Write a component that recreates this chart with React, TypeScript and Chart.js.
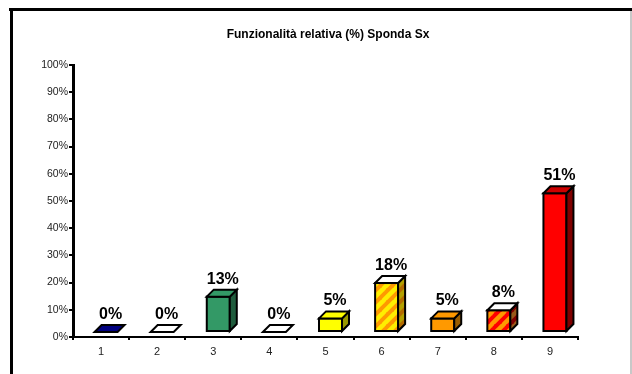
import React, { useEffect, useRef } from "react";
import { Chart, registerables } from "chart.js";

Chart.register(...registerables);

const title = "Funzionalità relativa (%) Sponda Sx";
const categories = ["1", "2", "3", "4", "5", "6", "7", "8", "9"];
const values = [0, 0, 13, 0, 5, 18, 5, 8, 51];
const yMin = 0;
const yMax = 100;
const yStep = 10;

const W = 632;
const H = 374;

// diagonal "/" stripes used by the patterned columns
function stripes(base: string, band: string, size = 12, bandWidth = 4.5): CanvasPattern | string {
  const c = document.createElement("canvas");
  c.width = size;
  c.height = size;
  const g = c.getContext("2d");
  if (!g) return base;
  g.fillStyle = base;
  g.fillRect(0, 0, size, size);
  g.strokeStyle = band;
  g.lineWidth = bandWidth;
  for (let k = -1; k <= 1; k++) {
    g.beginPath();
    g.moveTo(k * size - 1, size + 1);
    g.lineTo(k * size + size + 1, -1);
    g.stroke();
  }
  const ctx = document.createElement("canvas").getContext("2d");
  return (ctx && ctx.createPattern(c, "repeat")) || base;
}

type Face = string | CanvasPattern;

function faceStyles(): { front: Face[]; side: Face[]; top: Face[] } {
  const yellowOrange = stripes("#FF9900", "#FFEE00");
  const yellowOrangeDark = stripes("#B36B00", "#B3A000");
  const redOrange = stripes("#FF0000", "#FF9900");
  const redOrangeDark = stripes("#800000", "#99591A");
  return {
    front: ["#000080", "#FFFFFF", "#339966", "#FFFFFF", "#FFFF00", yellowOrange, "#FF9900", redOrange, "#FF0000"],
    side: ["#000040", "#FFFFFF", "#1F5C3D", "#FFFFFF", "#999900", yellowOrangeDark, "#995C00", redOrangeDark, "#800000"],
    top: ["#000080", "#FFFFFF", "#339966", "#FFFFFF", "#FFFF00", "#FFFFFF", "#FF9900", "#FFFFFF", "#CC0000"],
  };
}

// 3D columns: set back from the axis plane, depth going up-right
const SHIFT = 5;
const DEPTH = 7;

const columns3d = {
  id: "columns3d",
  afterDatasetsDraw(chart: any) {
    const { ctx } = chart;
    const meta = chart.getDatasetMeta(0);
    const styles = faceStyles();
    ctx.save();
    ctx.lineWidth = 2;
    ctx.lineJoin = "miter";
    ctx.strokeStyle = "#000000";
    meta.data.forEach((el: any, i: number) => {
      const p = el.getProps(["x", "y", "base", "width"], true);
      const left = p.x - p.width / 2 + SHIFT;
      const right = left + p.width;
      const top = p.y - SHIFT;
      const bottom = p.base - SHIFT;

      // front face
      if (bottom - top > 0.5) {
        ctx.fillStyle = styles.front[i];
        ctx.fillRect(left, top, right - left, bottom - top);
        ctx.strokeRect(left, top, right - left, bottom - top);
        // side face
        ctx.beginPath();
        ctx.moveTo(right, top);
        ctx.lineTo(right + DEPTH, top - DEPTH);
        ctx.lineTo(right + DEPTH, bottom - DEPTH);
        ctx.lineTo(right, bottom);
        ctx.closePath();
        ctx.fillStyle = styles.side[i];
        ctx.fill();
        ctx.stroke();
      }
      // top face
      ctx.beginPath();
      ctx.moveTo(left, top);
      ctx.lineTo(left + DEPTH, top - DEPTH);
      ctx.lineTo(right + DEPTH, top - DEPTH);
      ctx.lineTo(right, top);
      ctx.closePath();
      ctx.fillStyle = styles.top[i];
      ctx.fill();
      ctx.stroke();

      // value label
      ctx.fillStyle = "#000000";
      ctx.font = "bold 16px 'Liberation Sans', Arial, sans-serif";
      ctx.textAlign = "center";
      ctx.textBaseline = "alphabetic";
      ctx.fillText(values[i] + "%", left + (p.width + DEPTH) / 2 + 1, top - DEPTH - 6);
    });
    ctx.restore();
  },
};

// white page, chart frame and title
const frame = {
  id: "frame",
  beforeDraw(chart: any) {
    const { ctx } = chart;
    ctx.save();
    ctx.fillStyle = "#FFFFFF";
    ctx.fillRect(0, 0, W, H);
    ctx.fillStyle = "#000000";
    ctx.fillRect(9, 8, W - 9, 3);
    ctx.fillRect(10, 8, 3, H - 8);
    ctx.fillStyle = "#C8C8C8";
    ctx.fillRect(630, 11, 2, H - 11);
    ctx.fillStyle = "#000000";
    ctx.font = "bold 12px 'Liberation Sans', Arial, sans-serif";
    ctx.textAlign = "center";
    ctx.textBaseline = "middle";
    ctx.fillText(title, 328, 35);
    ctx.restore();
  },
};

export default function App() {
  const ref = useRef<HTMLCanvasElement | null>(null);

  useEffect(() => {
    if (!ref.current) return;
    const chart = new Chart(ref.current, {
      type: "bar",
      data: {
        labels: categories,
        datasets: [
          {
            data: values,
            backgroundColor: "rgba(0,0,0,0)",
            borderWidth: 0,
            categoryPercentage: 1,
            barPercentage: 0.41,
          },
        ],
      },
      options: {
        responsive: false,
        animation: false,
        devicePixelRatio: 1,
        layout: { padding: { top: 65, right: 54, left: 0, bottom: 0 } },
        plugins: {
          legend: { display: false },
          tooltip: { enabled: false },
          title: { display: false },
        },
        scales: {
          x: {
            afterFit: (s: any) => {
              s.height = H - 337;
            },
            grid: {
              display: true,
              drawOnChartArea: false,
              drawTicks: true,
              tickLength: 3,
              offset: true,
              color: "#000000",
              lineWidth: 2,
            },
            border: { display: true, color: "#000000", width: 2 },
            ticks: {
              color: "#222222",
              padding: 5,
              font: { family: "'Liberation Sans', Arial, sans-serif", size: 11 },
              maxRotation: 0,
            },
          },
          y: {
            min: yMin,
            max: yMax,
            afterFit: (s: any) => {
              s.width = 73;
            },
            grid: {
              display: true,
              drawOnChartArea: false,
              drawTicks: true,
              tickLength: 4,
              color: "#000000",
              lineWidth: 2,
            },
            border: { display: true, color: "#000000", width: 3 },
            ticks: {
              stepSize: yStep,
              color: "#222222",
              padding: 1,
              font: { family: "'Liberation Sans', Arial, sans-serif", size: 10.5 },
              callback: (v: any) => v + "%",
            },
          },
        },
      },
      plugins: [frame, columns3d],
    });
    return () => chart.destroy();
  }, []);

  return (
    <div style={{ position: "fixed", left: 0, top: 0, width: W, height: H, background: "#fff" }}>
      <canvas ref={ref} width={W} height={H} style={{ display: "block" }} />
    </div>
  );
}
